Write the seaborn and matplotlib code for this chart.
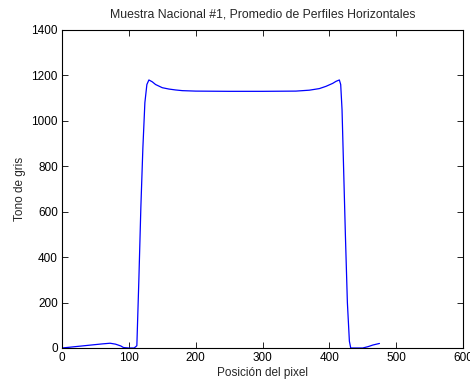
import matplotlib
matplotlib.use("Agg")
import matplotlib.pyplot as plt
import seaborn as sns
import pandas as pd

# Perfil horizontal promedio
posicion = [0, 20, 40, 60, 72, 80, 88, 92, 100, 108, 112, 115, 118, 121, 124,
            127, 130, 135, 140, 150, 160, 170, 180, 200, 250, 300, 350, 370,
            385, 395, 405, 410, 415, 417, 419, 421, 424, 427, 430, 432, 440,
            450, 458, 465, 475]
tono = [0, 6, 12, 18, 21, 17, 9, 2, 0, 0, 10, 300, 620, 880, 1080,
        1160, 1180, 1172, 1160, 1146, 1140, 1136, 1133, 1131, 1130, 1130, 1131, 1135,
        1142, 1152, 1165, 1174, 1180, 1160, 1050, 830, 500, 200, 30, 0, 0,
        0, 6, 13, 20]

df = pd.DataFrame({"pos": posicion, "tono": tono})

sns.set_style("ticks")
plt.rcParams['font.family'] = ['Liberation Sans', 'DejaVu Sans']
plt.rcParams['font.size'] = 8.5

fig = plt.figure(figsize=(4.7, 3.79), dpi=100)
ax = fig.add_axes([62 / 470, 1 - 348 / 379, 401 / 470, 318 / 379])

sns.lineplot(data=df, x="pos", y="tono", ax=ax, color="#0000ff", linewidth=0.9)

ax.set_xlim(0, 600)
ax.set_ylim(0, 1400)
ax.set_xticks(range(0, 601, 100))
ax.set_yticks(range(0, 1401, 200))
ax.tick_params(direction="in", top=True, right=True, length=4, width=0.6,
               labelsize=8.5, colors="black", pad=3)
for s in ax.spines.values():
    s.set_visible(True)
    s.set_linewidth(0.8)
    s.set_color("black")

ax.set_title("Muestra Nacional #1, Promedio de Perfiles Horizontales", fontsize=8.8, pad=9)
ax.set_xlabel("Posición del pixel", fontsize=8.5, labelpad=2)
ax.set_ylabel("Tono de gris", fontsize=8.5, labelpad=4)

fig.savefig("out.png", dpi=100)
